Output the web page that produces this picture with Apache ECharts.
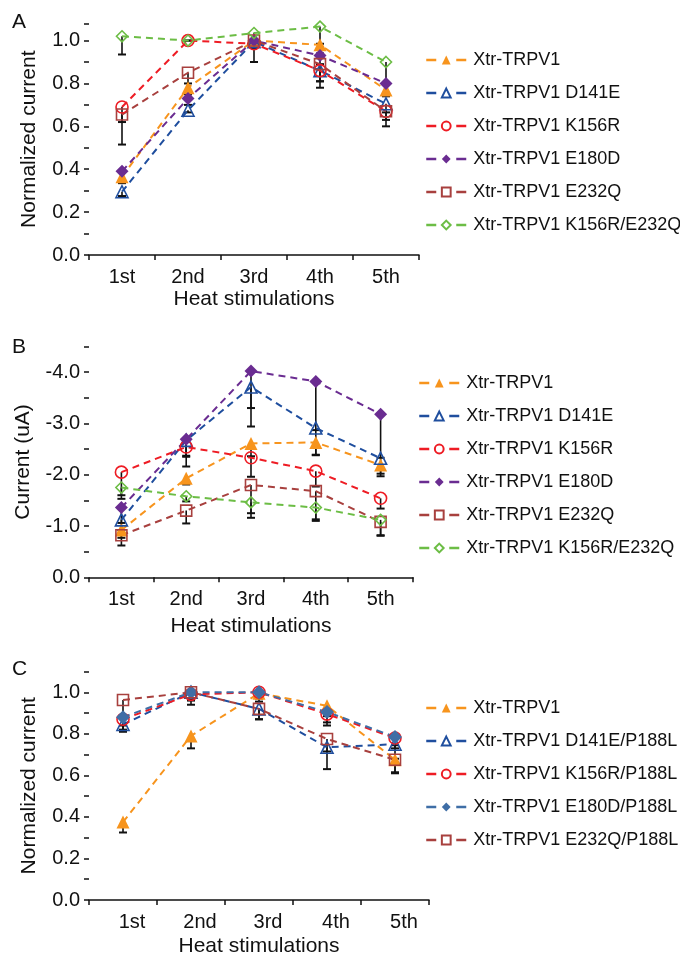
<!DOCTYPE html>
<html><head><meta charset="utf-8">
<script src="https://cdn.jsdelivr.net/npm/echarts@6/dist/echarts.min.js"></script>
<style>html,body{margin:0;padding:0;background:#fff}#c{width:680px;height:958px}</style>
</head><body><div id="c"></div>
<script>
const cats = ['1st','2nd','3rd','4th','5th'];

// Panel A: normalized current
const aNames = ['Xtr-TRPV1','Xtr-TRPV1 D141E','Xtr-TRPV1 K156R','Xtr-TRPV1 E180D','Xtr-TRPV1 E232Q','Xtr-TRPV1 K156R/E232Q'];
const aWT = [0.365, 0.78, 1.0, 0.98, 0.77];
const aWTErr = [0.03, 0.03, 0.03, 0.04, 0.03];
const aD141E = [0.295, 0.675, 0.995, 0.86, 0.705];
const aD141EErr = [0.02, 0.01, 0.02, 0.05, 0.04];
const aK156R = [0.69, 1.0, 0.985, 0.86, 0.67];
const aK156RErr = [0.07, 0.0, 0.02, 0.05, 0.04];
const aE180D = [0.39, 0.73, 1.0, 0.93, 0.80];
const aE180DErr = [0.05, 0.03, 0.03, 0.04, 0.05];
const aE232Q = [0.655, 0.85, 1.0, 0.89, 0.67];
const aE232QErr = [0.14, 0.05, 0.10, 0.11, 0.07];
const aKE = [1.02, 1.0, 1.035, 1.065, 0.90];
const aKEErr = [0.085, 0.0, 0.05, 0.08, 0.15];

// Panel B: current (uA), negative values
const bWT = [-0.92, -1.93, -2.61, -2.63, -2.19];
const bWTErr = [0.15, 0.12, 0.25, 0.25, 0.22];
const bD141E = [-1.12, -2.67, -3.71, -2.91, -2.32];
const bD141EErr = [0.2, 0.3, 0.77, 0.52, 0.3];
const bK156R = [-2.05, -2.54, -2.33, -2.07, -1.54];
const bK156RErr = [0.45, 0.38, 0.37, 0.3, 0.2];
const bE180D = [-1.36, -2.69, -4.02, -3.82, -3.18];
const bE180DErr = [0.3, 0.34, 0.72, 0.95, 0.85];
const bE232Q = [-0.82, -1.30, -1.80, -1.68, -1.08];
const bE232QErr = [0.2, 0.25, 0.55, 0.55, 0.27];
const bKE = [-1.75, -1.58, -1.46, -1.36, -1.12];
const bKEErr = [0.22, 0.1, 0.3, 0.26, 0.3];
const bTicks = ['0.0','-1.0','-2.0','-3.0','-4.0'];

// Panel C: normalized current, P188L
const cNames = ['Xtr-TRPV1','Xtr-TRPV1 D141E/P188L','Xtr-TRPV1 K156R/P188L','Xtr-TRPV1 E180D/P188L','Xtr-TRPV1 E232Q/P188L'];
const cWT = [0.375, 0.79, 0.995, 0.935, 0.675];
const cWTErr = [0.05, 0.06, 0.04, 0.05, 0.065];
const cD141E = [0.845, 1.0, 0.92, 0.735, 0.75];
const cD141EErr = [0.035, 0.04, 0.05, 0.105, 0.07];
const cK156R = [0.87, 0.99, 1.0, 0.895, 0.78];
const cK156RErr = [0.05, 0.05, 0.03, 0.055, 0.05];
const cE180D = [0.88, 1.0, 1.0, 0.905, 0.785];
const cE180DErr = [0.04, 0.03, 0.02, 0.05, 0.04];
const cE232Q = [0.963, 1.0, 0.92, 0.775, 0.675];
const cE232QErr = [0.15, 0.03, 0.05, 0.06, 0.06];

const FONT = 'Liberation Sans, Arial, sans-serif';
const ORANGE='#F7941D', BLUE='#1F4E9E', RED='#EE1C24', PURPLE='#6A2C91', BROWN='#A8403E', GREEN='#6CBD45', STEEL='#3F6EA6';

const styles = {
  wt: {color: ORANGE, symbol: 'triangle', size: 13, filled: true},
  d141: {color: BLUE, symbol: 'triangle', size: 12, filled: false},
  k156: {color: RED, symbol: 'circle', size: 12, filled: false},
  e180: {color: PURPLE, symbol: 'diamond', size: 13, filled: true},
  e232: {color: BROWN, symbol: 'rect', size: 11, filled: false},
  ke: {color: GREEN, symbol: 'diamond', size: 11, filled: false},
  e180p: {color: STEEL, symbol: 'diamond', size: 14, filled: true}
};

const series = [];
function addLine(name, gi, vals, st, sign) {
  series.push({
    name, type: 'line', xAxisIndex: gi, yAxisIndex: gi, z: 3,
    data: vals.map(v => v * sign),
    symbol: st.symbol, symbolSize: st.size, showSymbol: true,
    lineStyle: {color: st.color, width: 2, type: [7, 5]},
    itemStyle: {color: st.filled ? st.color : 'rgba(255,255,255,0)', borderColor: st.color, borderWidth: st.filled ? 0 : 1.6},
    emphasis: {disabled: true}, animation: false
  });
}
function addErr(gi, vals, errs, sign) {
  series.push({
    type: 'custom', xAxisIndex: gi, yAxisIndex: gi, z: 1, animation: false, silent: true,
    data: vals.map((v, i) => [i, v * sign, v * sign - errs[i]]),
    renderItem: (params, api) => {
      const p0 = api.coord([api.value(0), api.value(1)]);
      const p1 = api.coord([api.value(0), api.value(2)]);
      return {type: 'group', children: [
        {type: 'line', shape: {x1: p0[0], y1: p0[1], x2: p1[0], y2: p1[1]}, style: {stroke: '#111', lineWidth: 1.6}},
        {type: 'line', shape: {x1: p1[0]-4, y1: p1[1], x2: p1[0]+4, y2: p1[1]}, style: {stroke: '#111', lineWidth: 2}}
      ]};
    }
  });
}

// Panel A
const aSets = [[aWT,aWTErr,'wt'],[aD141E,aD141EErr,'d141'],[aK156R,aK156RErr,'k156'],[aE180D,aE180DErr,'e180'],[aE232Q,aE232QErr,'e232'],[aKE,aKEErr,'ke']];
aSets.forEach((s, i) => { addErr(0, s[0], s[1], 1); });
aSets.forEach((s, i) => { addLine(aNames[i], 0, s[0], styles[s[2]], 1); });
// Panel B
const bSets = [[bWT,bWTErr,'wt'],[bD141E,bD141EErr,'d141'],[bK156R,bK156RErr,'k156'],[bE180D,bE180DErr,'e180'],[bE232Q,bE232QErr,'e232'],[bKE,bKEErr,'ke']];
bSets.forEach((s, i) => { addErr(1, s[0], s[1], -1); });
bSets.forEach((s, i) => { addLine(aNames[i], 1, s[0], styles[s[2]], -1); });
// Panel C
const cSets = [[cWT,cWTErr,'wt'],[cD141E,cD141EErr,'d141'],[cK156R,cK156RErr,'k156'],[cE180D,cE180DErr,'e180p'],[cE232Q,cE232QErr,'e232']];
cSets.forEach((s, i) => { addErr(2, s[0], s[1], 1); });
cSets.forEach((s, i) => { addLine(cNames[i], 2, s[0], styles[s[2]], 1); });

const grids = [
  {left: 89, top: 23.4, width: 330, height: 231.6},
  {left: 89, top: 346.5, width: 324, height: 230.8},
  {left: 89, top: 671.5, width: 340, height: 229.2}
];
const axisCommon = {
  axisLine: {lineStyle: {color: '#111', width: 1.5}},
  axisTick: {show: true, inside: false, length: 5, lineStyle: {color: '#111', width: 1.5}},
  splitLine: {show: false}
};
function xAx(gi, nameGap, pad) {
  return Object.assign({}, axisCommon, {
    type: 'category', gridIndex: gi, data: cats, boundaryGap: true,
    name: 'Heat stimulations', nameLocation: 'middle', nameGap,
    nameTextStyle: {fontFamily: FONT, fontSize: 21, color: '#111'},
    axisLabel: {fontFamily: FONT, fontSize: 20, color: '#111', margin: 12, padding: pad || 0, interval: 0}
  });
}
function yAx(gi, max, interval, name, nameGap, fmt) {
  return Object.assign({}, axisCommon, {
    type: 'value', gridIndex: gi, min: 0, max, interval,
    name, nameLocation: 'middle', nameGap,
    nameTextStyle: {fontFamily: FONT, fontSize: 21, color: '#111'},
    minorTick: {show: true, splitNumber: 2, length: 5, lineStyle: {color: '#111', width: 1.5}},
    axisLabel: {fontFamily: FONT, fontSize: 20, color: '#111', margin: 9, showMaxLabel: false, formatter: fmt}
  });
}
const legendCommon = {
  orient: 'vertical', itemWidth: 40, itemHeight: 11, itemGap: 15, padding: 0,
  lineStyle: {type: [10, 20], width: 2.5},
  textStyle: {fontFamily: FONT, fontSize: 18, color: '#111', padding: [0,0,0,2]},
  selectedMode: false
};

const option = {
  backgroundColor: '#fff',
  animation: false,
  grid: grids,
  xAxis: [xAx(0, 34), xAx(1, 38), xAx(2, 36, [0,0,0,18])],
  yAxis: [
    yAx(0, 1.08, 0.2, 'Normalized current', 49, v => v.toFixed(1)),
    yAx(1, 4.5, 1, 'Current (uA)', 55, v => bTicks[Math.round(v)]),
    yAx(2, 1.1, 0.2, 'Normalized current', 49, v => v.toFixed(1))
  ],
  legend: [
    Object.assign({}, legendCommon, {left: 425, top: 51, data: aNames}),
    Object.assign({}, legendCommon, {left: 418, top: 374, data: aNames}),
    Object.assign({}, legendCommon, {left: 425, top: 699, data: cNames})
  ],
  graphic: [
    {type: 'text', left: 12, top: 12, style: {text: 'A', fontFamily: FONT, fontSize: 21, fill: '#111'}},
    {type: 'text', left: 12, top: 337, style: {text: 'B', fontFamily: FONT, fontSize: 21, fill: '#111'}},
    {type: 'text', left: 12, top: 659, style: {text: 'C', fontFamily: FONT, fontSize: 21, fill: '#111'}}
  ],
  series
};
const chart = echarts.init(document.getElementById('c'), null, {renderer: 'canvas'});
chart.setOption(option);
</script></body></html>
